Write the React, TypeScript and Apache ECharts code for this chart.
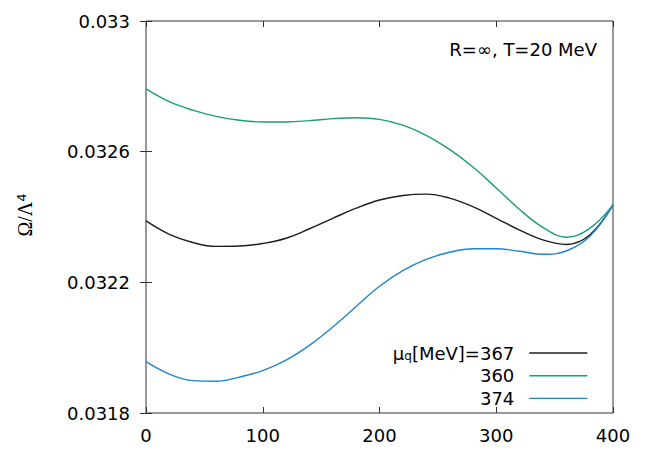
import React, { useEffect, useRef } from 'react';
import * as echarts from 'echarts';

const xValues = [0, 20, 40, 60, 80, 100, 120, 140, 160, 180, 200, 220, 240, 260, 280, 300, 320, 340, 360, 380, 400];
const omega367 = [0.032388, 0.032347, 0.032322, 0.03231, 0.032311, 0.032319, 0.032335, 0.032364, 0.032396, 0.032427, 0.032452, 0.032466, 0.03247, 0.032458, 0.032432, 0.032396, 0.03236, 0.03233, 0.032316, 0.032345, 0.032437];
const omega360 = [0.032792, 0.032753, 0.032727, 0.032708, 0.032696, 0.032691, 0.032691, 0.032695, 0.032701, 0.032704, 0.032699, 0.032681, 0.03265, 0.032607, 0.032553, 0.032489, 0.032423, 0.032368, 0.032338, 0.032365, 0.032437];
const omega374 = [0.031957, 0.031919, 0.031899, 0.031897, 0.03191, 0.03193, 0.031962, 0.032007, 0.032063, 0.032126, 0.032188, 0.032236, 0.03227, 0.032292, 0.032303, 0.032303, 0.032295, 0.032286, 0.032296, 0.03234, 0.032437];
const seriesNames = ['367', '360', '374'];
const seriesColors = ['#1e1e1e', '#1a9e77', '#1f85c8'];
const annotation = 'R=\u221E, T=20 MeV';

const FONT = 'DejaVu Sans';

export default function App() {
  const ref = useRef<HTMLDivElement>(null);
  useEffect(() => {
    document.body.style.margin = '0';
    const chart = echarts.init(ref.current!, null, { renderer: 'svg' });
    const toPairs = (ys: number[]) => xValues.map((x, i) => [x, ys[i]]);
    const seriesData = [omega367, omega360, omega374];
    const tickStyle = { show: true, inside: true, length: 6, lineStyle: { color: '#333', width: 1 } };
    chart.setOption({
      animation: false,
      grid: { left: 146, right: 41, top: 21, bottom: 45, show: true, borderColor: '#333', borderWidth: 1 },
      xAxis: [
        {
          type: 'value', min: 0, max: 400, interval: 100, position: 'bottom',
          axisLine: { show: false }, axisTick: tickStyle, splitLine: { show: false },
          axisLabel: { margin: 13, fontFamily: FONT, fontSize: 18, color: '#000' },
        },
        {
          type: 'value', min: 0, max: 400, interval: 100, position: 'top',
          axisLine: { show: false }, axisTick: tickStyle, splitLine: { show: false },
          axisLabel: { show: false },
        },
      ],
      yAxis: [
        {
          type: 'value', min: 0.0318, max: 0.033, interval: 0.0004, position: 'left',
          axisLine: { show: false }, axisTick: tickStyle, splitLine: { show: false },
          axisLabel: {
            margin: 16, fontFamily: FONT, fontSize: 18, color: '#000',
            formatter: (v: number) => String(+v.toFixed(4)),
          },
        },
        {
          type: 'value', min: 0.0318, max: 0.033, interval: 0.0004, position: 'right',
          axisLine: { show: false }, axisTick: tickStyle, splitLine: { show: false },
          axisLabel: { show: false },
        },
      ],
      legend: {
        orient: 'vertical', align: 'right', right: 66, top: 344, padding: 0,
        itemWidth: 58, itemHeight: 18, itemGap: 4.7,
        data: seriesNames,
        itemStyle: { opacity: 0 },
        lineStyle: { width: 1.4 },
        textStyle: {
          fontFamily: FONT, fontSize: 18, color: '#000', padding: [0, 10, 0, 0],
          rich: {
            a: { fontFamily: FONT, fontSize: 18, lineHeight: 18, verticalAlign: 'top', color: '#000' },
            s: { fontFamily: FONT, fontSize: 12, lineHeight: 8, verticalAlign: 'bottom', color: '#000' },
            b: { fontFamily: FONT, fontSize: 18, lineHeight: 18, color: '#000' },
          },
        },
        formatter: (name: string) =>
          name === '367' ? '{a|\u03BC}{s|q}{a|[MeV]=367}' : '{b|' + name + '}',
      },
      graphic: [
        {
          type: 'text', right: 57, top: 40,
          style: { text: annotation, fontFamily: FONT, fontSize: 18, fill: '#000' },
        },
        {
          type: 'text', x: 25, y: 215, rotation: Math.PI / 2,
          style: {
            text: '{o|\u03A9/\u039B}{p|4}',
            align: 'center', verticalAlign: 'middle',
            rich: {
              o: { fontFamily: 'Liberation Serif', fontSize: 20, fill: '#000', verticalAlign: 'bottom', lineHeight: 20 },
              p: { fontFamily: FONT, fontSize: 13, fill: '#000', verticalAlign: 'top', lineHeight: 13 },
            },
          },
        },
      ],
      series: seriesNames.map((name, i) => ({
        name, type: 'line', xAxisIndex: 0, yAxisIndex: 0,
        data: toPairs(seriesData[i]), showSymbol: false, symbol: 'none', smooth: 0.4,
        lineStyle: { color: seriesColors[i], width: 1.4 }, itemStyle: { color: seriesColors[i] },
      })),
    });
    return () => chart.dispose();
  }, []);
  return <div ref={ref} style={{ width: 654, height: 458 }} />;
}
